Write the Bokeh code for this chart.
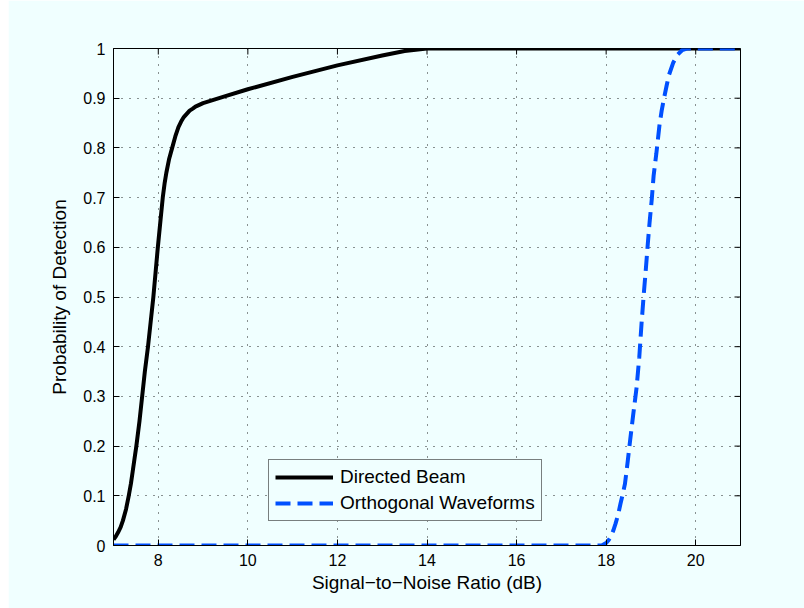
import math
from bokeh.plotting import figure
from bokeh.models import Range1d, FixedTicker, Legend, LegendItem
from bokeh.embed import file_html
from bokeh.resources import INLINE

# ---- data ----
directed_snr = [7.0, 7.05, 7.1, 7.16, 7.21, 7.28, 7.34, 7.39, 7.43, 7.47, 7.51,
                7.58, 7.64, 7.70, 7.77, 7.83, 7.89, 7.94, 7.99, 8.05, 8.10,
                8.14, 8.18, 8.24, 8.31, 8.38, 8.45, 8.51, 8.57, 8.64, 8.70,
                8.77, 8.83, 9.0, 9.5, 10.0, 11.0, 12.0, 13.0, 13.5, 14.0, 21.0]
directed_pd = [0.012, 0.018, 0.026, 0.037, 0.05, 0.073, 0.10, 0.125, 0.15, 0.175, 0.20,
               0.25, 0.30, 0.35, 0.40, 0.45, 0.50, 0.55, 0.60, 0.655, 0.70,
               0.728, 0.75, 0.777, 0.80, 0.823, 0.842, 0.853, 0.862, 0.869, 0.875,
               0.879, 0.883, 0.89, 0.904, 0.918, 0.943, 0.966, 0.986, 0.995, 1.0, 1.0]

ortho_snr = [7.0, 17.9, 18.0, 18.05, 18.1, 18.16, 18.21, 18.27, 18.32, 18.37, 18.42,
             18.48, 18.54, 18.60, 18.68, 18.74, 18.79, 18.84, 18.89, 18.93, 18.97,
             19.02, 19.06, 19.12, 19.19, 19.24, 19.29, 19.35, 19.40, 19.50, 19.60,
             19.70, 19.80, 21.0]
ortho_pd = [0.0, 0.0, 0.005, 0.01, 0.017, 0.03, 0.044, 0.063, 0.084, 0.103, 0.124,
            0.168, 0.215, 0.26, 0.318, 0.379, 0.446, 0.506, 0.56, 0.607, 0.65,
            0.698, 0.744, 0.788, 0.845, 0.875, 0.899, 0.925, 0.946, 0.972, 0.988,
            0.997, 1.0, 1.0]

x_ticks = [8, 10, 12, 14, 16, 18, 20]
y_ticks = [0, 0.1, 0.2, 0.3, 0.4, 0.5, 0.6, 0.7, 0.8, 0.9, 1]
y_tick_labels = ["0", "0.1", "0.2", "0.3", "0.4", "0.5", "0.6", "0.7", "0.8", "0.9", "1"]

series_labels = ["Directed Beam", "Orthogonal Waveforms"]
x_label = "Signal\u2212to\u2212Noise Ratio (dB)"
y_label = "Probability of Detection"

BG = "#F0FFFF"
FONT = "Liberation Sans"
X0, X1, Y0, Y1 = 7, 21, 0, 1

p = figure(width=796, height=608, x_range=Range1d(X0, X1), y_range=Range1d(Y0, Y1),
           output_backend="svg", toolbar_location=None,
           background_fill_color=BG, border_fill_color=BG,
           min_border_left=105, min_border_right=64, min_border_top=48,
           min_border_bottom=63)
p.margin = (0, 0, 0, 8)

bottom_axis = p.xaxis[0]
left_axis = p.yaxis[0]

for ax, ticks in [(bottom_axis, x_ticks), (left_axis, y_ticks)]:
    ax.ticker = FixedTicker(ticks=ticks)
    ax.major_tick_in = 6
    ax.major_tick_out = 0
    ax.minor_tick_line_color = None
    ax.axis_line_color = "black"
    ax.major_tick_line_color = "black"
    ax.major_label_text_font = FONT
    ax.major_label_text_font_size = "16px"
    ax.major_label_text_color = "black"
    ax.major_label_standoff = 8

left_axis.major_label_overrides = {t: l for t, l in zip(y_ticks, y_tick_labels)}
bottom_axis.axis_label = x_label
left_axis.axis_label = y_label
for ax, sd in ((bottom_axis, 3), (left_axis, 10)):
    ax.axis_label_text_font = FONT
    ax.axis_label_text_font_size = "19px"
    ax.axis_label_text_font_style = "normal"
    ax.axis_label_text_color = "black"
    ax.axis_label_standoff = sd

p.xgrid.ticker = FixedTicker(ticks=x_ticks)
p.ygrid.ticker = FixedTicker(ticks=y_ticks)
p.grid.grid_line_color = "#222222"
p.grid.grid_line_dash = "1 7"
p.grid.grid_line_width = 1
p.outline_line_color = "black"

# inward ticks on the top and right edges of the box (clipped half-markers)
p.scatter(x_ticks, [Y1] * len(x_ticks), marker="dash", size=12, angle=math.pi / 2,
          line_color="black", line_width=1)
p.scatter([X1] * len(y_ticks), y_ticks, marker="dash", size=12,
          line_color="black", line_width=1)

r1 = p.line(directed_snr, directed_pd, line_color="black", line_width=4,
            line_join="round")
r2 = p.line(ortho_snr, ortho_pd, line_color="#0050FF", line_width=4,
            line_dash="15 7")

legend = Legend(items=[LegendItem(label=series_labels[0], renderers=[r1]),
                       LegendItem(label=series_labels[1], renderers=[r2])],
                location=(155, 24), glyph_width=58, glyph_height=20,
                label_standoff=7, padding=6, spacing=4, margin=0,
                label_text_font=FONT, label_text_font_size="19px",
                label_text_color="black",
                border_line_color="black", border_line_width=1,
                background_fill_color=BG, background_fill_alpha=1.0)
p.add_layout(legend)

open("out.html", "w").write(file_html(p, INLINE))
